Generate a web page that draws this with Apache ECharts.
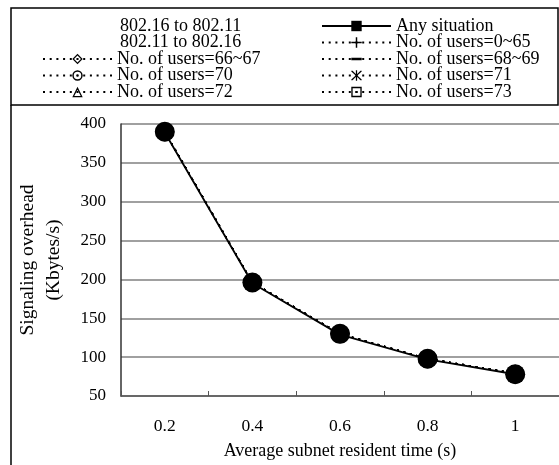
<!DOCTYPE html>
<html>
<head>
<meta charset="utf-8">
<script src="https://cdn.jsdelivr.net/npm/echarts@6/dist/echarts.min.js"></script>
<style>
html,body{margin:0;padding:0;background:#fff;}
#chart{width:559px;height:465px;}
</style>
</head>
<body>
<div id="chart"></div>
<script>
const categories = ['0.2', '0.4', '0.6', '0.8', '1'];
const yTicks = [50, 100, 150, 200, 250, 300, 350, 400];
const anySituation = [389, 195, 129, 97, 78];
const users0to65 = [390, 196, 130, 98, 79];
const users66to67 = [390, 196, 130, 98, 79];
const users68to69 = [390, 196, 130, 98, 79];
const users70 = [390, 196, 130, 98, 79];
const users71 = [390, 196, 130, 98, 79];
const users72 = [390, 196, 130, 98, 79];
const users73 = [390, 196, 130, 98, 79];
const dir1611 = [390, 196, 130, 98, 78];
const dir1116 = [390, 196, 130, 98, 78];

const leftLegend = ['802.16 to 802.11', '802.11 to 802.16', 'No. of users=66~67', 'No. of users=70', 'No. of users=72'];
const rightLegend = ['Any situation', 'No. of users=0~65', 'No. of users=68~69', 'No. of users=71', 'No. of users=73'];

const SYM = {
  plus: 'path://M4.3,0H5.7V4.3H10V5.7H5.7V10H4.3V5.7H0V4.3H4.3Z',
  dash: 'path://M0,0L0.01,0L0,0.01Z M0,3.8H10V6.2H0Z M10,10L9.99,10L10,9.99Z',
  diamond: 'path://M5,0L10,5L5,10L0,5Z M5,1.7L1.7,5L5,8.3L8.3,5Z M5,4.2L5.8,5L5,5.8L4.2,5Z',
  circle: 'path://M5,0A5,5 0 1 1 5,10A5,5 0 1 1 5,0Z M5,1.4A3.6,3.6 0 1 0 5,8.6A3.6,3.6 0 1 0 5,1.4Z M5,4A1,1 0 1 1 5,6A1,1 0 1 1 5,4Z',
  star: 'path://M0,0.5L1.2,0.5L5,4.3L8.8,0.5L10,0.5L10,1.2L5.8,5L10,8.8L10,9.5L8.8,9.5L5,5.7L1.2,9.5L0,9.5L0,8.8L4.2,5L0,1.2Z M4.4,0H5.6V10H4.4Z',
  triangle: 'path://M5,0L10,10L0,10Z M5,2.8L1.9,8.9H8.1Z',
  square: 'path://M0,0H10V10H0Z M1.3,1.3V8.7H8.7V1.3Z M4,4H6V6H4Z'
};

const DOT = [2, 4.7];
function userSeries(name, data, symbol, size) {
  return {
    name: name, type: 'line', data: data,
    symbol: symbol, symbolSize: size || 9,
    itemStyle: { color: '#000' },
    lineStyle: { color: '#000', width: 1.5, type: DOT },
    z: 3
  };
}

const series = [
  userSeries('No. of users=0~65', users0to65, SYM.plus),
  userSeries('No. of users=66~67', users66to67, SYM.diamond),
  userSeries('No. of users=68~69', users68to69, SYM.dash, 12),
  userSeries('No. of users=70', users70, SYM.circle),
  userSeries('No. of users=71', users71, SYM.star),
  userSeries('No. of users=72', users72, SYM.triangle),
  userSeries('No. of users=73', users73, SYM.square),
  {
    name: 'Any situation', type: 'line', data: anySituation,
    symbol: 'rect', symbolSize: 9,
    itemStyle: { color: '#000' },
    lineStyle: { color: '#000', width: 1.8, type: 'solid' },
    z: 4
  },
  {
    name: '802.16 to 802.11', type: 'line', data: dir1611,
    symbol: 'circle', symbolSize: 20,
    itemStyle: { color: '#000' },
    lineStyle: { opacity: 0 },
    z: 5
  },
  {
    name: '802.11 to 802.16', type: 'line', data: dir1116,
    symbol: 'circle', symbolSize: 19,
    itemStyle: { color: '#000' },
    lineStyle: { opacity: 0 },
    z: 5
  }
];

const legendText = { fontFamily: 'Liberation Serif', fontSize: 18, color: '#000', lineHeight: 16 };
function legendItems(names) {
  return names.map(function (n) {
    if (n.indexOf('802.') === 0) {
      return { name: n, itemStyle: { opacity: 0 }, lineStyle: { opacity: 0 }, textStyle: { padding: [0, 0, 0, 3] } };
    }
    return { name: n };
  });
}

const chart = echarts.init(document.getElementById('chart'), null, { renderer: 'canvas' });
chart.setOption({
  animation: false,
  backgroundColor: '#fff',
  textStyle: { fontFamily: 'Liberation Serif' },
  legend: [
    {
      orient: 'vertical', left: 42, top: 17, padding: 0,
      itemWidth: 69, itemHeight: 13, itemGap: -1.5,
      selectedMode: false,
      textStyle: legendText,
      data: legendItems(leftLegend)
    },
    {
      orient: 'vertical', left: 321, top: 17, padding: 0,
      itemWidth: 69, itemHeight: 13, itemGap: -1.5,
      selectedMode: false,
      textStyle: legendText,
      data: legendItems(rightLegend)
    }
  ],
  grid: { left: 121, top: 124, width: 450, height: 272, containLabel: false },
  xAxis: {
    type: 'category', data: categories, boundaryGap: true,
    name: 'Average subnet resident time (s)',
    nameLocation: 'middle', nameGap: 46,
    nameTextStyle: { fontFamily: 'Liberation Serif', fontSize: 18, color: '#000' },
    axisLine: { lineStyle: { color: '#555', width: 1.5 } },
    axisTick: { show: true, inside: true, length: 5, alignWithLabel: false, lineStyle: { color: '#555', width: 1 } },
    axisLabel: { fontFamily: 'Liberation Serif', fontSize: 17.5, color: '#000', margin: 21 },
    splitLine: { show: false }
  },
  yAxis: {
    type: 'value', min: 50, max: 400, interval: 50,
    name: 'Signaling overhead\n(Kbytes/s)',
    nameLocation: 'middle', nameGap: 54, nameRotate: 90,
    nameTextStyle: { fontFamily: 'Liberation Serif', fontSize: 19.5, color: '#000', lineHeight: 26 },
    axisLine: { show: true, lineStyle: { color: '#333', width: 1.5 } },
    axisTick: { show: false },
    axisLabel: {
      fontFamily: 'Liberation Serif', fontSize: 17, color: '#000', margin: 15,
      formatter: function (v) { return yTicks.indexOf(v) >= 0 ? String(v) : ''; }
    },
    splitLine: { show: true, lineStyle: { color: '#808080', width: 1.5 } }
  },
  graphic: [
    { type: 'rect', shape: { x: 11, y: 8, width: 547, height: 97 }, style: { fill: 'none', stroke: '#000', lineWidth: 1.5 }, silent: true },
    { type: 'line', shape: { x1: 11, y1: 105, x2: 11, y2: 465 }, style: { stroke: '#000', lineWidth: 1.5 }, silent: true }
  ],
  series: series
});
</script>
</body>
</html>
